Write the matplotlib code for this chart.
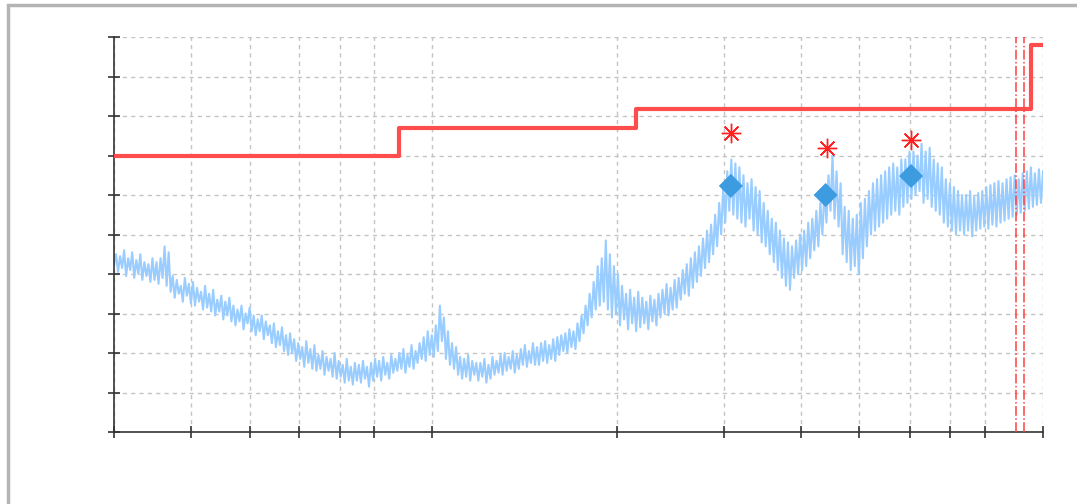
import matplotlib
matplotlib.use("Agg")
import matplotlib.pyplot as plt
import numpy as np
from matplotlib.patches import Rectangle

# ---- data ----
x_ticks = [0, 8.29, 14.64, 19.91, 24.33, 27.99, 34.23, 54.14, 65.66,
           73.95, 80.19, 85.68, 89.99, 93.76, 100]
y_ticks = list(range(0, 11))

signal = [
    4.25, 4.50, 4.05, 4.45, 4.15, 4.60, 3.95, 4.40, 4.10, 4.55,
    3.90, 4.35, 4.00, 4.50, 3.85, 4.30, 3.95, 4.25, 3.80, 4.40,
    3.85, 4.30, 3.75, 4.40, 3.90, 4.70, 3.70, 4.55, 3.55, 3.95,
    3.40, 3.85, 3.50, 3.70, 3.30, 3.90, 3.45, 3.75, 3.25, 3.80,
    3.20, 3.65, 3.30, 3.55, 3.10, 3.70, 3.15, 3.50, 3.05, 3.60,
    2.95, 3.35, 3.05, 3.45, 2.85, 3.30, 2.95, 3.40, 2.80, 3.20,
    2.70, 3.10, 2.80, 3.20, 2.60, 3.00, 2.75, 3.15, 2.55, 2.95,
    2.45, 2.85, 2.55, 2.95, 2.35, 2.80, 2.45, 2.70, 2.25, 2.75,
    2.15, 2.55, 2.20, 2.65, 2.05, 2.45, 1.95, 2.50, 2.00, 2.35,
    1.80, 2.25, 1.85, 2.15, 1.65, 2.30, 1.75, 2.10, 1.60, 2.20,
    1.55, 1.95, 1.60, 2.05, 1.45, 1.90, 1.55, 1.85, 1.40, 2.00,
    1.35, 1.80, 1.40, 1.70, 1.25, 1.85, 1.30, 1.65, 1.20, 1.75,
    1.30, 1.70, 1.25, 1.80, 1.35, 1.65, 1.15, 1.75, 1.30, 1.85,
    1.40, 1.80, 1.30, 1.90, 1.45, 1.75, 1.35, 1.95, 1.50, 1.85,
    1.55, 2.00, 1.60, 2.10, 1.50, 1.95, 1.65, 2.20, 1.60, 2.05,
    1.75, 2.25, 1.85, 2.40, 1.80, 2.55, 1.95, 2.45, 1.90, 2.70,
    2.05, 3.20, 2.30, 2.90, 1.85, 2.55, 1.70, 2.25, 1.60, 2.15,
    1.45, 1.90, 1.35, 1.85, 1.40, 1.95, 1.30, 1.80, 1.45, 1.75,
    1.30, 1.75, 1.40, 1.85, 1.25, 1.70, 1.35, 1.90, 1.45, 1.80,
    1.50, 1.95, 1.45, 2.00, 1.55, 1.90, 1.60, 2.05, 1.50, 1.95,
    1.60, 2.10, 1.70, 2.20, 1.65, 2.05, 1.75, 2.25, 1.70, 2.15,
    1.70, 2.25, 1.80, 2.30, 1.75, 2.20, 1.85, 2.35, 1.80, 2.40,
    1.95, 2.45, 2.05, 2.50, 2.00, 2.60, 2.15, 2.55, 2.10, 2.75,
    2.30, 2.95, 2.50, 3.20, 2.70, 3.50, 2.90, 3.80, 3.10, 4.20,
    3.20, 4.40, 3.30, 4.85, 3.10, 4.50, 2.90, 4.20, 3.00, 4.00,
    2.70, 3.70, 2.85, 3.50, 2.60, 3.60, 2.75, 3.40, 2.55, 3.55,
    2.65, 3.40, 2.75, 3.30, 2.60, 3.45, 2.80, 3.35, 2.70, 3.50,
    2.90, 3.60, 3.00, 3.75, 2.95, 3.65, 3.10, 3.85, 3.15, 3.90,
    3.35, 4.10, 3.50, 4.25, 3.45, 4.40, 3.65, 4.55, 3.80, 4.70,
    3.95, 4.90, 4.15, 5.10, 4.30, 5.25, 4.50, 5.50, 4.70, 5.80,
    5.00, 6.20, 5.30, 6.60, 5.60, 6.90, 5.50, 6.80, 5.40, 6.70,
    5.30, 6.50, 5.20, 6.30, 5.40, 6.40, 5.10, 6.20, 5.00, 6.10,
    4.80, 5.80, 4.70, 5.60, 4.50, 5.40, 4.30, 5.30, 4.10, 5.10,
    3.90, 4.90, 3.70, 4.80, 3.60, 4.70, 3.90, 4.85, 4.00, 5.00,
    4.10, 5.10, 4.20, 5.30, 4.40, 5.40, 4.60, 5.60, 4.70, 5.80,
    5.00, 6.10, 5.30, 6.50, 5.60, 7.00, 5.40, 6.60, 5.20, 6.30,
    4.50, 5.70, 4.30, 5.60, 4.10, 5.40, 4.20, 5.50, 4.00, 5.80,
    4.40, 5.90, 4.70, 6.10, 5.00, 6.30, 5.10, 6.40, 5.20, 6.50,
    5.30, 6.60, 5.40, 6.70, 5.50, 6.80, 5.60, 6.70, 5.50, 6.90,
    5.70, 6.90, 5.80, 7.10, 5.90, 7.10, 6.00, 7.00, 6.10, 7.30,
    5.80, 7.10, 5.90, 7.20, 5.70, 6.90, 5.60, 6.80, 5.50, 6.70,
    5.30, 6.40, 5.20, 6.30, 5.10, 6.20, 5.00, 6.10, 5.10, 6.00,
    5.00, 6.00, 5.10, 6.10, 4.95, 5.95, 5.10, 6.05, 5.15, 6.10,
    5.20, 6.20, 5.15, 6.25, 5.25, 6.30, 5.20, 6.35, 5.30, 6.30,
    5.35, 6.40, 5.40, 6.45, 5.45, 6.50, 5.50, 6.40, 5.55, 6.55,
    5.60, 6.60, 5.65, 6.70, 5.70, 6.55, 5.75, 6.65, 5.80, 6.60,
]

# threshold step line
step_x = [0, 30.68, 56.19, 98.7, 100]
step_y = [7.0, 7.7, 8.18, 9.8, 9.8]

# detected events
event_x = [66.4, 76.6, 85.8]
event_y = [6.23, 6.0, 6.48]
alarm_x = [66.4, 76.7, 85.8]
alarm_y = [7.57, 7.2, 7.39]

# vertical markers
vline_x = [97.1, 97.95]

# ---- figure ----
fig = plt.figure(figsize=(10.77, 5.04), dpi=100)
ax = fig.add_axes([114 / 1077, 1 - 432 / 504, 929 / 1077, 395 / 504])

sig_x = np.linspace(0, 100, len(signal))
ax.plot(sig_x, signal, color="#99ccff", lw=1.5, zorder=2)
ax.step(step_x, step_y, where="post", color="#ff4d4d", lw=3, zorder=3)
ax.scatter(event_x, event_y, marker="D", s=150, color="#3d9be0",
           edgecolor="none", zorder=4)
ax.plot(alarm_x, alarm_y, linestyle="none", marker=(8, 2, 0), markersize=14,
        markeredgewidth=1.0, color="#ff2020", zorder=5)
for vx in vline_x:
    ax.axvline(vx, color="#ff4040", lw=1.1, linestyle="-.", zorder=3)

ax.set_xlim(0, 100)
ax.set_ylim(0, 10)
ax.set_xticks(x_ticks)
ax.set_yticks(y_ticks)
ax.set_xticklabels([])
ax.set_yticklabels([])
ax.tick_params(direction="inout", length=9, width=1.2, color="#333333")
ax.grid(True, color="#c4c4c4", linestyle=(0, (3, 3)), lw=1.0, zorder=0)
ax.set_axisbelow(True)
for side in ("top", "right"):
    ax.spines[side].set_visible(False)
for side in ("left", "bottom"):
    ax.spines[side].set_color("#333333")
    ax.spines[side].set_linewidth(1.2)

# screenshot-like frame at left/top
fig.patches.append(Rectangle((8 / 1077, -0.1), 1.2, 1.1 - 5 / 504,
                             transform=fig.transFigure, fill=False,
                             edgecolor="#b4b4b4", lw=2.5))

fig.savefig("out.png", dpi=100)
